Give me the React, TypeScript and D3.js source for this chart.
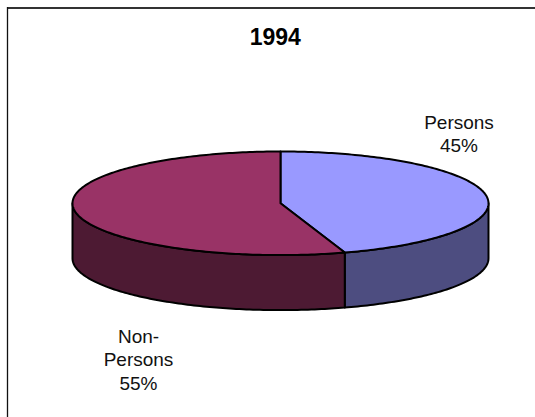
import React from "react";
import { pie, line, range, scaleLinear } from "d3";

const categories = ["Persons", "Non-Persons"];
const shares = [45, 55];
const labelLines = [["Persons", "45%"], ["Non-", "Persons", "55%"]];
const topColors = ["#9999ff", "#993366"];
const sideColors = ["#4d4d80", "#4d1a33"];
const title = "1994";

const width = 535;
const height = 417;
const cx = 280.5;
const cy = 203.3;
const rx = 208;
const ry = 51.8;
const depth = 55;
const font = "'Liberation Sans', Arial, sans-serif";

// label anchor per slice: center x, first baseline
const labelPos = [
  { x: 459, y: 128.5 },
  { x: 138.5, y: 342.5 },
];
const lineGap = 23.5;

const xOf = scaleLinear().domain([-1, 1]).range([cx - rx, cx + rx]);
const yOf = scaleLinear().domain([-1, 1]).range([cy - ry, cy + ry]);

const slices = pie<number>().sort(null)(shares);

// points along the rim, angle measured clockwise from top
const rim = (a0: number, a1: number, dy = 0): [number, number][] => {
  const n = Math.max(2, Math.ceil(Math.abs(a1 - a0) * 60));
  return range(n + 1).map((i) => {
    const a = a0 + ((a1 - a0) * i) / n;
    return [xOf(Math.sin(a)), yOf(-Math.cos(a)) + dy];
  });
};

const path = line();

function topPath(a0: number, a1: number) {
  return path([[cx, cy], ...rim(a0, a1)])! + "Z";
}

function sidePath(a0: number, a1: number) {
  const from = Math.max(a0, Math.PI / 2);
  const to = Math.min(a1, (3 * Math.PI) / 2);
  if (to <= from) return null;
  return path([...rim(from, to), ...rim(to, from, depth)])! + "Z";
}

export default function App() {
  return (
    <svg
      width={width}
      height={height}
      style={{ position: "fixed", left: 0, top: 0, background: "#fff" }}
    >
      {/* chart frame runs off the right and bottom */}
      <line x1={7} x2={width} y1={8} y2={8} stroke="#333" strokeWidth={2} />
      <line x1={7.5} x2={7.5} y1={7} y2={height} stroke="#111" strokeWidth={1.3} />
      <text x={275.3} y={44.5} textAnchor="middle" fontFamily={font} fontWeight="bold" fontSize={23} fill="#000">
        {title}
      </text>
      {slices.map((s, i) => {
        const d = sidePath(s.startAngle, s.endAngle);
        return d ? (
          <path key={categories[i]} d={d} fill={sideColors[i]} stroke="#000" strokeWidth={2} strokeLinejoin="round" />
        ) : null;
      })}
      {slices.map((s, i) => (
        <path
          key={categories[i]}
          d={topPath(s.startAngle, s.endAngle)}
          fill={topColors[i]}
          stroke="#000"
          strokeWidth={2}
          strokeLinejoin="round"
        />
      ))}
      {labelLines.map((lines, i) =>
        lines.map((t, j) => (
          <text
            key={i + "-" + j}
            x={labelPos[i].x}
            y={labelPos[i].y + j * lineGap}
            textAnchor="middle"
            fontFamily={font}
            fontSize={19}
            fill="#111"
          >
            {t}
          </text>
        ))
      )}
    </svg>
  );
}
